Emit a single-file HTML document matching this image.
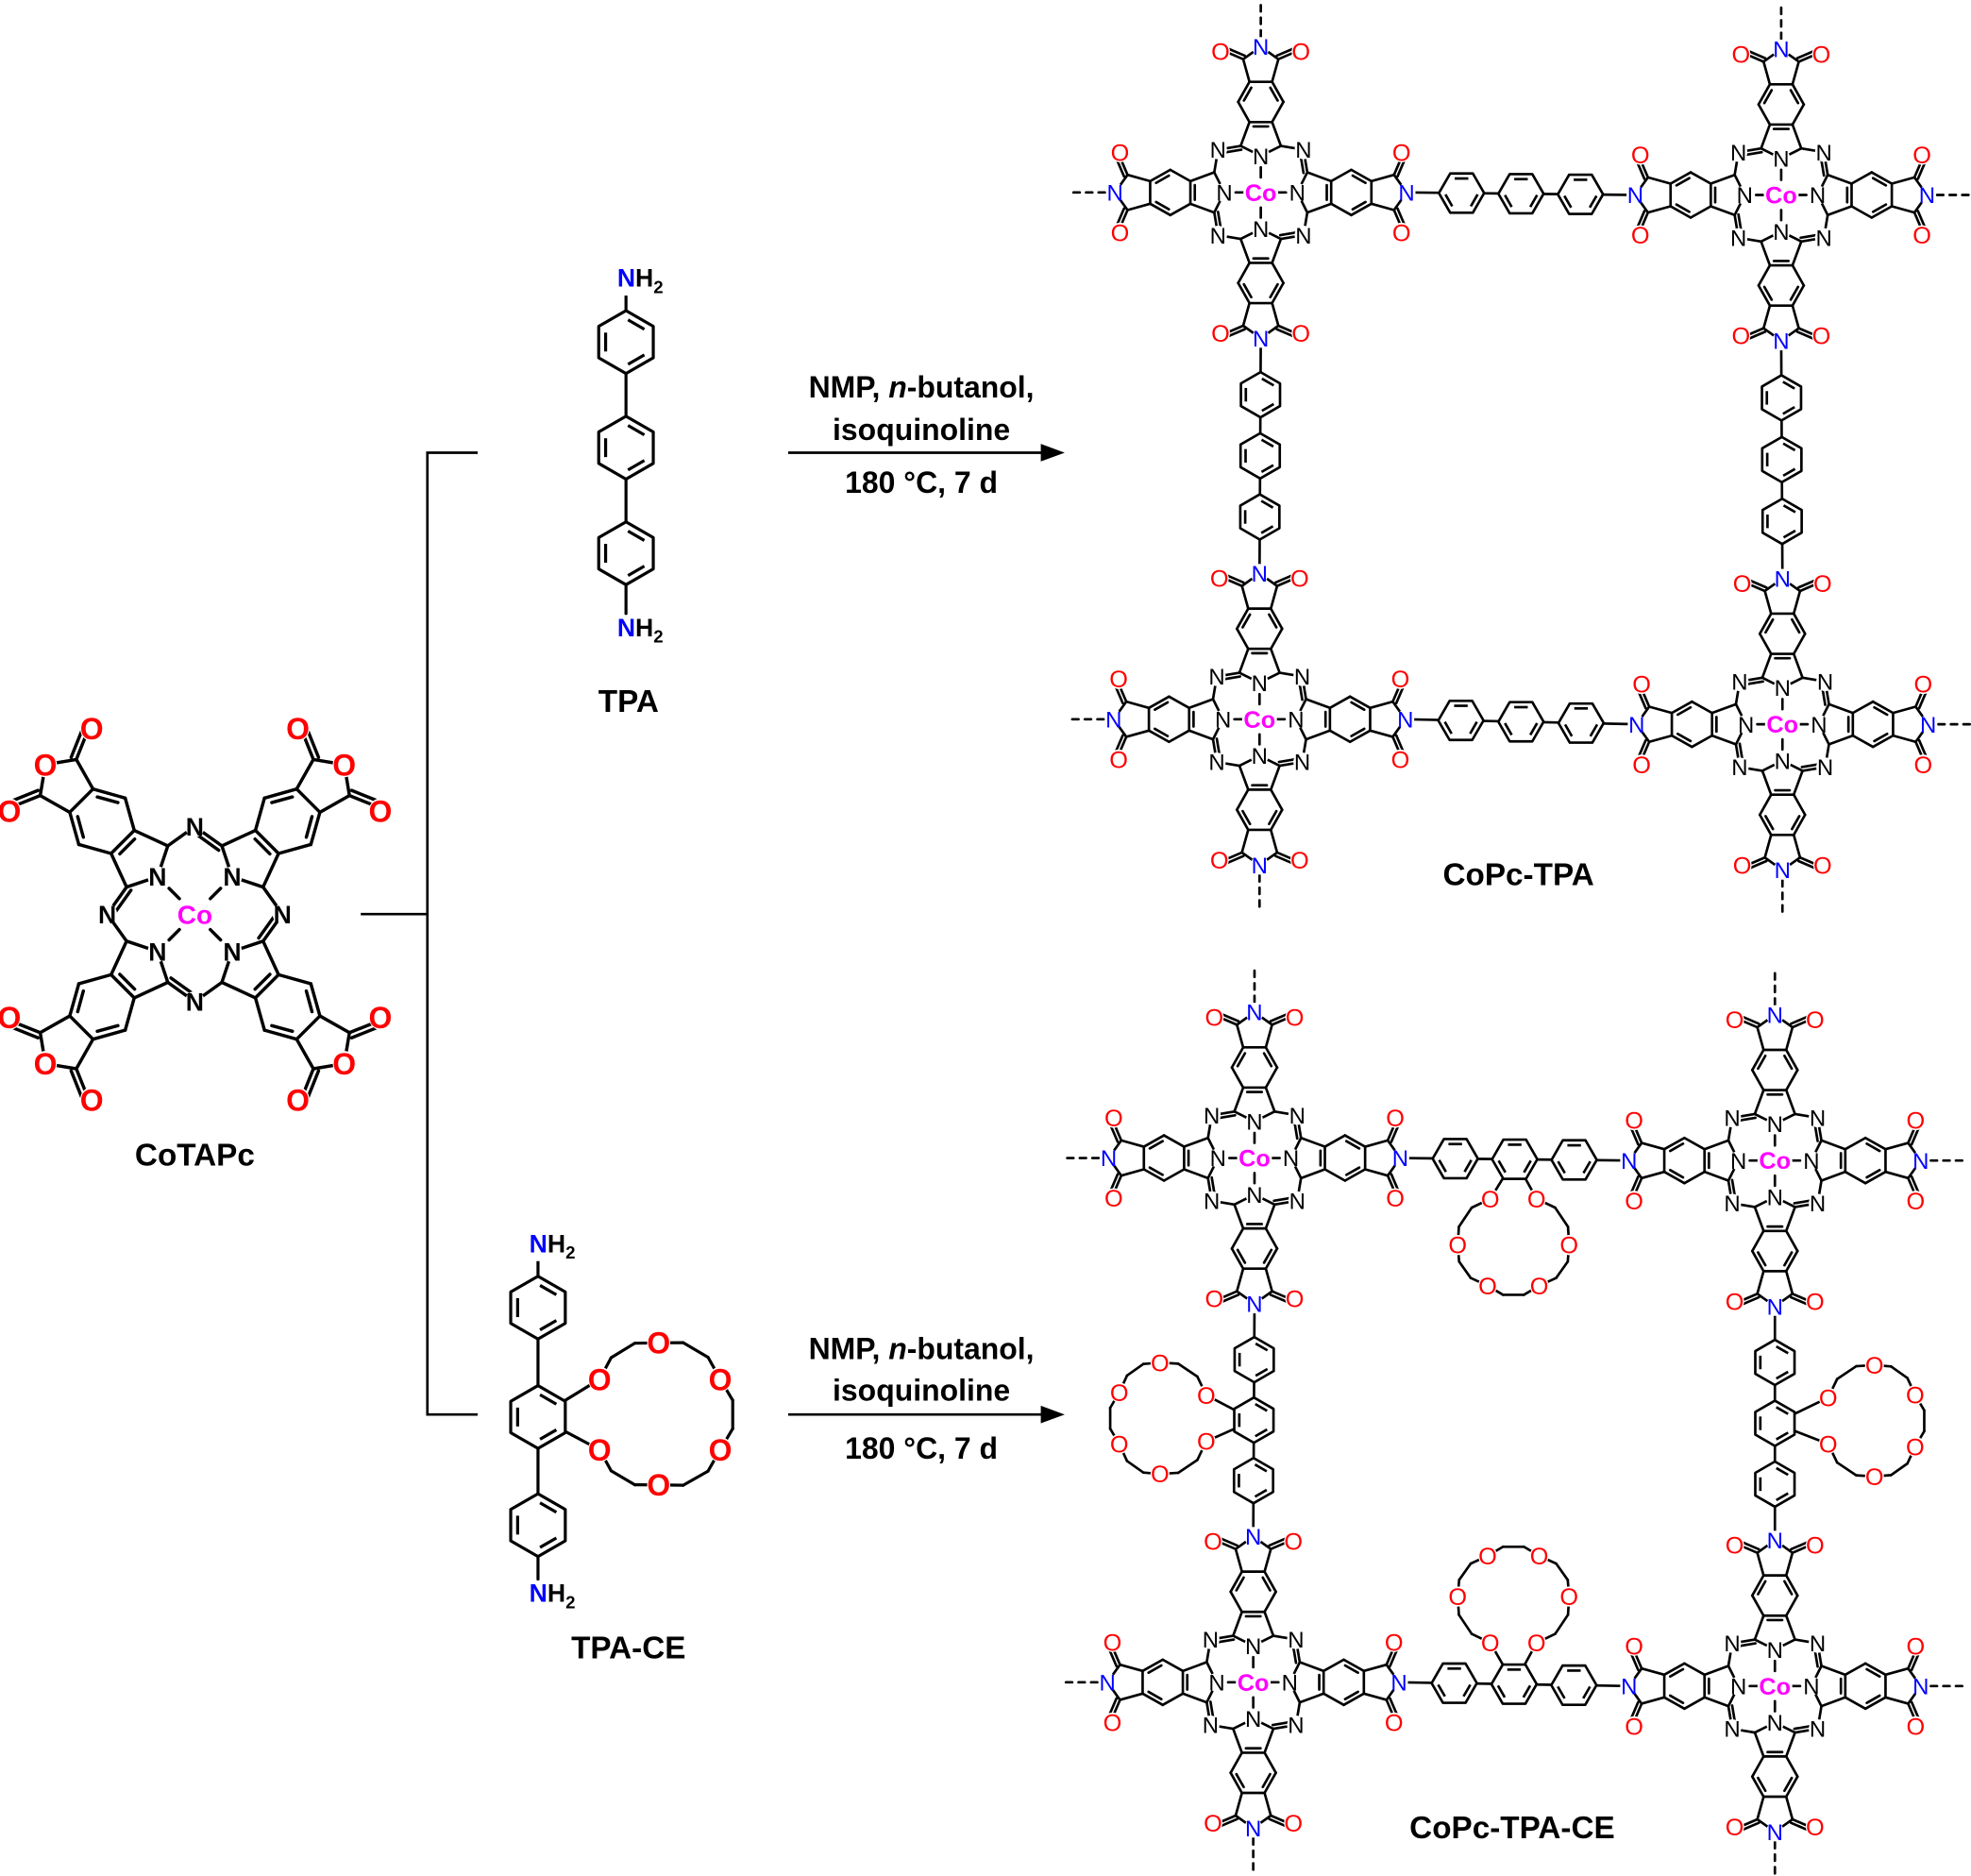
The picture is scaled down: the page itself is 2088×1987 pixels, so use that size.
<!DOCTYPE html>
<html><head><meta charset="utf-8"><style>
html,body{margin:0;padding:0;background:#fff}
svg{display:block}
text{font-family:"Liberation Sans",Arial,sans-serif}
</style></head><body>
<svg id="s" width="2088" height="1987" viewBox="0 0 1568 1492" xmlns="http://www.w3.org/2000/svg">
<g id="lines" stroke="#000" stroke-linecap="round" fill="none"></g>
<g id="rings" stroke="#000" stroke-linejoin="round"></g>
<g id="halo" fill="#fff" stroke="none"></g>
<g id="texts"></g>
<g font-weight="bold" fill="#000" text-anchor="middle" font-size="24">
<text x="733" y="316">NMP, <tspan font-style="italic">n</tspan>-butanol,</text>
<text x="733" y="350">isoquinoline</text>
<text x="733" y="392">180 °C, 7 d</text>
<text x="733" y="1081">NMP, <tspan font-style="italic">n</tspan>-butanol,</text>
<text x="733" y="1114">isoquinoline</text>
<text x="733" y="1160">180 °C, 7 d</text>
<text x="500" y="566" font-size="25">TPA</text>
<text x="500" y="1319" font-size="25">TPA-CE</text>
<text x="155" y="927" font-size="25">CoTAPc</text>
<text x="1208" y="704" font-size="25">CoPc-TPA</text>
<text x="1203" y="1462" font-size="25">CoPc-TPA-CE</text>
</g>
<g stroke="#000" stroke-width="2" fill="none">
<polyline points="287,727 340,727"/>
<polyline points="380,360 340,360 340,1125 380,1125"/>
<line x1="627" y1="360" x2="830" y2="360"/>
<line x1="627" y1="1125" x2="830" y2="1125"/>
</g>
<polygon points="847,360 828,353 828,367" fill="#000"/>
<polygon points="847,1125 828,1118 828,1132" fill="#000"/>
</svg>
<script>
const Lg=document.getElementById('lines'),Rg=document.getElementById('rings'),Tg=document.getElementById('texts'),Hg=document.getElementById('halo');
let LS='',RS='',TS='',HS='';
function L(p,q,w,dash){w=w||2;LS+=`<line x1="${p[0].toFixed(1)}" y1="${p[1].toFixed(1)}" x2="${q[0].toFixed(1)}" y2="${q[1].toFixed(1)}" stroke-width="${w}"${dash?' stroke-dasharray="5,5"':''}/>`;}
function inner(p,q,c,w,o){o=o||4;const mx=(p[0]+q[0])/2,my=(p[1]+q[1])/2;let dx=c[0]-mx,dy=c[1]-my;const d=Math.hypot(dx,dy)||1;dx=dx/d*o;dy=dy/d*o;
 const sh=0.18;const a=[p[0]+(q[0]-p[0])*sh+dx,p[1]+(q[1]-p[1])*sh+dy],b=[q[0]+(p[0]-q[0])*sh+dx,q[1]+(p[1]-q[1])*sh+dy];L(a,b,w);}
function par(p,q,o,w){const dx=q[0]-p[0],dy=q[1]-p[1],d=Math.hypot(dx,dy);const nx=-dy/d*o,ny=dx/d*o;L([p[0]+nx,p[1]+ny],[q[0]+nx,q[1]+ny],w);}
function T(p,s,fill,size,weight){const a=`x="${p[0].toFixed(1)}" y="${(p[1]+size*0.36).toFixed(1)}" font-size="${size}" ${weight?'font-weight="bold"':''} text-anchor="middle"`;
 const rx=size*0.34*s.length+1, ry=size*0.42;
 HS+=`<ellipse cx="${p[0].toFixed(1)}" cy="${p[1].toFixed(1)}" rx="${rx.toFixed(1)}" ry="${ry.toFixed(1)}"/>`;TS+=`<text ${a} fill="${fill}">${s}</text>`;}
function hex(cx,cy,r,vert,w){w=w||2;const pts=[];for(let i=0;i<6;i++){const a=(vert?-90:0)+i*60;pts.push([cx+r*Math.cos(a*Math.PI/180),cy+r*Math.sin(a*Math.PI/180)]);}
 RS+=`<polygon points="${pts.map(p=>p.map(v=>v.toFixed(1)).join(',')).join(' ')}" fill="#fff" stroke-width="${w}"/>`;
 for(let i=0;i<6;i+=2){const p=pts[i],q=pts[(i+1)%6];const mx=(p[0]+q[0])/2,my=(p[1]+q[1])/2;let dx=cx-mx,dy=cy-my;const d=Math.hypot(dx,dy);dx=dx/d*r*0.22;dy=dy/d*r*0.22;const sh=0.2;
  RS+=`<line x1="${(p[0]+(q[0]-p[0])*sh+dx).toFixed(1)}" y1="${(p[1]+(q[1]-p[1])*sh+dy).toFixed(1)}" x2="${(q[0]+(p[0]-q[0])*sh+dx).toFixed(1)}" y2="${(q[1]+(p[1]-q[1])*sh+dy).toFixed(1)}" stroke-width="${w}"/>`;}
}
function unit(cx,cy,s,ang,anh,dashes){
 const P=(k,x,y)=>{const a=(ang+k*90)*Math.PI/180;return [cx+s*(x*Math.cos(a)-y*Math.sin(a)),cy+s*(x*Math.sin(a)+y*Math.cos(a))];};
 const w=anh?2.6:2, fs=anh?20:18, fo=anh?24:19;
 for(let k=0;k<4;k++){
  const N=P(k,0,-29),aL=P(k,-16,-37),aR=P(k,16,-37),bL=P(k,-9,-56),bR=P(k,9,-56);
  const r1=P(k,-18,-72),r2=P(k,-9,-88),r3=P(k,9,-88),r4=P(k,18,-72),rc=P(k,0,-72),pc=P(k,0,-45);
  const cL=P(k,-14,-106),cR=P(k,14,-106),X=P(k,0,-116),oL=P(k,-28,-112),oR=P(k,28,-112);
  const m=P(k,34,-34),nA=P(k+1,-16,-37);
  L(N,aL,w);L(N,aR,w);L(aL,bL,w);L(aR,bR,w);L(bL,bR,w);inner(bL,bR,pc,w,3.5*s);
  L(bL,r1,w);L(r1,r2,w);L(r2,r3,w);L(r3,r4,w);L(r4,bR,w);inner(r1,r2,rc,w,3.5*s);inner(r3,r4,rc,w,3.5*s);
  L(r2,cL,w);L(r3,cR,w);L(cL,X,w);L(cR,X,w);L(cL,oL,w);L(cR,oR,w);
  par(cL,oL,3*s,w);par(oR,cR,3*s,w);
  L(aR,m,w);L(m,nA,w);par(m,nA,3*s,w);
  L(P(k,0,-12),P(k,0,-20),w);
  if(dashes&&dashes.includes(k))L(P(k,0,-124),P(k,0,-152),2,true);
  T(N,'N','#000',fs,anh);T(m,'N','#000',fs,anh);
  T(X,anh?'O':'N',anh?'#f00':'#00f',anh?fo:fs,anh);
  T(P(k,-32,-112),'O','#f00',fo,anh);T(P(k,32,-112),'O','#f00',fo,anh);
 }
 T([cx,cy],'Co','#f0f',(anh?21:19),true);
}
function NP(cx,cy,s,ang,k){const a=(ang+k*90)*Math.PI/180;const y=-116;return [cx-s*y*Math.sin(a),cy+s*y*Math.cos(a)];}
function linker(A,B,vert){
 L(A,B,2);
 [0.24,0.5,0.76].forEach(f=>hex(A[0]+(B[0]-A[0])*f,A[1]+(B[1]-A[1])*f,18,vert,2));
}
const base=[[-17,-32],[-41,2],[-19,32],[19,32],[41,2],[17,-32]];
function crownPts(cx,cy,rot,sc){
 const a=rot*Math.PI/180;return base.map(([x,y])=>[cx+sc*(x*Math.cos(a)-y*Math.sin(a)),cy+sc*(x*Math.sin(a)+y*Math.cos(a))]);
}
function crown(O,cx,cy,ringC,w,fs,bold){
 w=w||2;fs=fs||12;
 L(O[0],[O[0][0]+(ringC[0]-O[0][0])*0.8,O[0][1]+(ringC[1]-O[0][1])*0.8],w);
 L(O[5],[O[5][0]+(ringC[0]-O[5][0])*0.8,O[5][1]+(ringC[1]-O[5][1])*0.8],w);
 for(let i=0;i<5;i++){const p=O[i],q=O[i+1];
  const c1=[p[0]+(q[0]-p[0])/3,p[1]+(q[1]-p[1])/3],c2=[p[0]+(q[0]-p[0])*2/3,p[1]+(q[1]-p[1])*2/3];
  const push=(c,d)=>{let dx=c[0]-cx,dy=c[1]-cy;const n=Math.hypot(dx,dy);return [c[0]+dx/n*d,c[1]+dy/n*d];};
  const bd=Math.hypot(q[0]-p[0],q[1]-p[1])*0.18;
  const d1=push(c1,bd),d2=push(c2,bd);
  L(p,d1,w);L(d1,d2,w);L(d2,q,w);
 }
 O.forEach(o=>T(o,'O','#f00',fs,bold));
}
unit(155,727,1.45,45,true,[]);
const U=[[1003,153,[0,3]],[1417,155,[0,1]],[1002,572,[3,2]],[1418,576,[1,2]],
 [998,921,[0,3]],[1412,923,[0,1]],[997,1338,[3,2]],[1412,1341,[1,2]]];
U.forEach(u=>unit(u[0],u[1],1,0,false,u[2]));
const N=(i,k)=>NP(U[i][0],U[i][1],1,0,k);
linker(N(0,1),N(1,3),false);linker(N(2,1),N(3,3),false);
linker(N(0,2),N(2,0),true);linker(N(1,2),N(3,0),true);
linker(N(4,1),N(5,3),false);linker(N(6,1),N(7,3),false);
linker(N(4,2),N(6,0),true);linker(N(5,2),N(7,0),true);
function netCrown(ring,cx,cy,rot){crown(crownPts(cx,cy,rot,1.08),cx,cy,ring,2,19,false);}
{const a=N(4,1),b=N(5,3);netCrown([(a[0]+b[0])/2,(a[1]+b[1])/2],1204,988,0);}
{const a=N(6,1),b=N(7,3);netCrown([(a[0]+b[0])/2,(a[1]+b[1])/2],1204,1272,180);}
{const a=N(4,2),b=N(6,0);netCrown([(a[0]+b[0])/2,(a[1]+b[1])/2],925,1128,90);}
{const a=N(5,2),b=N(7,0);netCrown([(a[0]+b[0])/2,(a[1]+b[1])/2],1489,1130,-90);}
function nh2(x,y){const s=`<tspan fill="#00f">N</tspan><tspan fill="#000">H</tspan><tspan fill="#000" font-size="14" dy="5">2</tspan>`;
 HS+=`<rect x="${x-2}" y="${y-17}" width="40" height="24"/>`;
 TS+=`<text x="${x}" y="${y}" font-size="20" font-weight="bold">${s}</text>`;}
L([498,232],[498,488],2.4);
[272,356,440].forEach(y=>hex(498,y,25,true,2.4));
nh2(491,228);nh2(491,506);
L([428,1000],[428,1256],2.4);
[1040,1127,1213].forEach(y=>hex(428,y,25,true,2.4));
nh2(421,996);nh2(421,1274);
crown([[477,1097],[524,1068],[573,1097],[573,1153],[524,1181],[477,1153]],525,1125,[428,1127],2.4,24,true);
Lg.innerHTML=LS;Rg.innerHTML=RS;Hg.innerHTML=HS;Tg.innerHTML=TS;
</script>
</body></html>
